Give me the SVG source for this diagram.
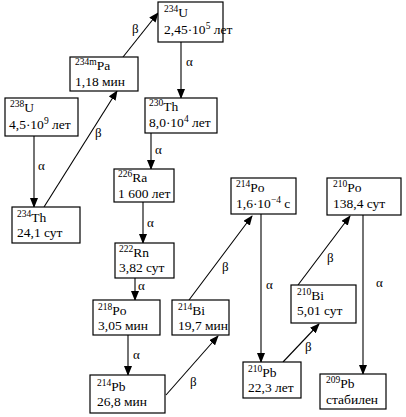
<svg xmlns="http://www.w3.org/2000/svg" width="406" height="417" viewBox="0 0 406 417" font-family="'Liberation Serif', 'DejaVu Serif', serif">
<defs>
<marker id="ah" markerUnits="userSpaceOnUse" markerWidth="10" markerHeight="8" refX="9" refY="4" orient="auto">
<path d="M0,0 L10,4 L0,8 Z" fill="#000"/>
</marker>
<style>
rect{fill:#fff;stroke:#000;stroke-width:1.2}
text{font-family:'Liberation Serif','DejaVu Serif',serif;font-size:13.5px;fill:#000}
.s{font-size:9.5px}
.l{font-size:13px}
line{stroke:#000;stroke-width:1.1;marker-end:url(#ah)}
</style>
</defs>
<rect x="0" y="0" width="406" height="417" style="stroke:none"/>
<g id="connectors">
<line x1="34" y1="136" x2="34" y2="207"/>
<line x1="44" y1="207" x2="117" y2="91"/>
<line x1="123" y1="57" x2="158" y2="13"/>
<line x1="181" y1="42" x2="181" y2="98"/>
<line x1="151" y1="133" x2="151" y2="169"/>
<line x1="143" y1="202" x2="143" y2="243"/>
<line x1="135" y1="278" x2="135" y2="300"/>
<line x1="128" y1="335" x2="128" y2="375"/>
<line x1="166" y1="395" x2="218" y2="336"/>
<line x1="189" y1="300" x2="252" y2="216"/>
<line x1="261" y1="214" x2="261" y2="362"/>
<line x1="283" y1="362" x2="319" y2="324"/>
<line x1="298" y1="285" x2="350" y2="216"/>
<line x1="363" y1="215" x2="363" y2="374"/>
<text class="l" x="38" y="170">α</text>
<text class="l" x="95" y="137">β</text>
<text class="l" x="132" y="33">β</text>
<text class="l" x="186" y="66">α</text>
<text class="l" x="155" y="154">α</text>
<text class="l" x="147" y="227">α</text>
<text class="l" x="138" y="290">α</text>
<text class="l" x="133" y="359">α</text>
<text class="l" x="190" y="386">β</text>
<text class="l" x="222" y="271">β</text>
<text class="l" x="266" y="289">α</text>
<text class="l" x="305" y="351">β</text>
<text class="l" x="327" y="262">β</text>
<text class="l" x="376" y="287">α</text>
</g>
<g id="U238"><rect x="5" y="98" width="73" height="38"/><text x="10" y="112"><tspan class="s" dy="-5">238</tspan><tspan dy="5">U</tspan></text><text x="9" y="129">4,5·10<tspan class="s" dy="-5">9</tspan><tspan dy="5"> лет</tspan></text></g>
<g id="Th234"><rect x="12" y="207" width="68" height="36"/><text x="17" y="222"><tspan class="s" dy="-5">234</tspan><tspan dy="5">Th</tspan></text><text x="17" y="237">24,1 сут</text></g>
<g id="Pa234m"><rect x="70" y="57" width="68" height="34"/><text x="75" y="70"><tspan class="s" dy="-5">234m</tspan><tspan dy="5">Pa</tspan></text><text x="75" y="86">1,18 мин</text></g>
<g id="U234"><rect x="158" y="2" width="65" height="40"/><text x="164" y="17"><tspan class="s" dy="-5">234</tspan><tspan dy="5">U</tspan></text><text x="164" y="34">2,45·10<tspan class="s" dy="-5">5</tspan><tspan dy="5"> лет</tspan></text></g>
<g id="Th230"><rect x="145" y="98" width="72" height="35"/><text x="149" y="111"><tspan class="s" dy="-5">230</tspan><tspan dy="5">Th</tspan></text><text x="149" y="127">8,0·10<tspan class="s" dy="-5">4</tspan><tspan dy="5"> лет</tspan></text></g>
<g id="Ra226"><rect x="114" y="169" width="60" height="33"/><text x="118" y="182"><tspan class="s" dy="-5">226</tspan><tspan dy="5">Ra</tspan></text><text x="118" y="198">1 600  лет</text></g>
<g id="Rn222"><rect x="115" y="243" width="59" height="35"/><text x="119" y="257"><tspan class="s" dy="-5">222</tspan><tspan dy="5">Rn</tspan></text><text x="119" y="272">3,82 сут</text></g>
<g id="Po218"><rect x="93" y="300" width="67" height="35"/><text x="98" y="315"><tspan class="s" dy="-5">218</tspan><tspan dy="5">Po</tspan></text><text x="98" y="330">3,05 мин</text></g>
<g id="Pb214"><rect x="90" y="375" width="75" height="38"/><text x="97" y="391"><tspan class="s" dy="-5">214</tspan><tspan dy="5">Pb</tspan></text><text x="97" y="406">26,8 мин</text></g>
<g id="Bi214"><rect x="172" y="300" width="57" height="35"/><text x="178" y="315"><tspan class="s" dy="-5">214</tspan><tspan dy="5">Bi</tspan></text><text x="178" y="330">19,7 мин</text></g>
<g id="Po214"><rect x="231" y="178" width="65" height="36"/><text x="236" y="192"><tspan class="s" dy="-5">214</tspan><tspan dy="5">Po</tspan></text><text x="236" y="208">1,6·10<tspan class="s" dy="-5">−4</tspan><tspan dy="5"> с</tspan></text></g>
<g id="Po210"><rect x="327" y="178" width="74" height="37"/><text x="333" y="192"><tspan class="s" dy="-5">210</tspan><tspan dy="5">Po</tspan></text><text x="333" y="208">138,4 сут</text></g>
<g id="Bi210"><rect x="291" y="285" width="65" height="38"/><text x="297" y="300"><tspan class="s" dy="-5">210</tspan><tspan dy="5">Bi</tspan></text><text x="297" y="315">5,01 сут</text></g>
<g id="Pb210"><rect x="243" y="362" width="58" height="36"/><text x="248" y="377"><tspan class="s" dy="-5">210</tspan><tspan dy="5">Pb</tspan></text><text x="248" y="392">22,3 лет</text></g>
<g id="Pb209"><rect x="320" y="374" width="66" height="35"/><text x="326" y="388"><tspan class="s" dy="-5">209</tspan><tspan dy="5">Pb</tspan></text><text x="326" y="404">стабилен</text></g>
</svg>
